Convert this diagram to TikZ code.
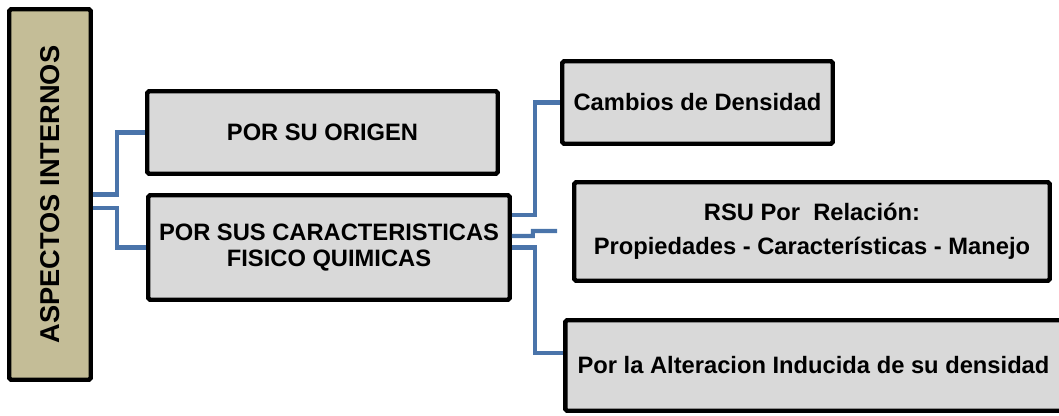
\documentclass[tikz,border=0pt]{standalone}
\usepackage{fontspec}
\setmainfont{Liberation Sans}
\definecolor{tancolor}{HTML}{C4BD97}
\definecolor{boxgray}{HTML}{D9D9D9}
\definecolor{linkblue}{HTML}{4A74AA}

\begin{document}
\begin{tikzpicture}[x=0.02cm, y=-0.02cm,
		caja/.style={draw=black, line width=2.5pt, rounded corners=1pt, fill=boxgray, align=center, inner sep=0pt,
			font=\fontsize{13.5}{14.5}\selectfont\bfseries},
		link/.style={draw=linkblue, line width=2.3pt}]
		\useasboundingbox (0,0) rectangle (1059,416);
		\clip (0,0) rectangle (1059,416);
		% tema principal
		\node[caja, fill=tancolor, minimum width=1.63cm, minimum height=7.41cm,
			font=\fontsize{15.5}{17}\selectfont\bfseries] (aspectos) at (50,194.5) {\rotatebox{90}{ASPECTOS INTERNOS}};
		% clasificacion
		\node[caja, minimum width=7.01cm, minimum height=1.65cm] (origen) at (322.5,132.5) {POR SU ORIGEN};
		\node[caja, minimum width=7.23cm, minimum height=2.09cm] (caract) at (329,247.5) {POR SUS CARACTERISTICAS\\FISICO QUIMICAS};
		% subdivisiones
		\node[caja, minimum width=5.41cm, minimum height=1.65cm] (cambios) at (697.5,102.5) {Cambios de Densidad};
		\node[caja, minimum width=9.51cm, minimum height=1.97cm, font=\fontsize{13.5}{19.3}\selectfont\bfseries] (rsu) at (812,231.5) {RSU Por\ \ Relación:\\ Propiedades - Características - Manejo};
		\node[caja, minimum width=9.93cm, minimum height=1.81cm] (alteracion) at (813.5,365.5) {Por la Alteracion Inducida de su densidad};
		\coordinate (stub) at (557,231);

		\draw[link] (aspectos.east) -- ++(24,0) |- (origen.west);
		\draw[link] ([yshift=-0.27cm]aspectos.east) -- ++(24,0) |- (caract.west);
		\draw[link] ([yshift=0.65cm]caract.east) -- ++(23,0) |- (cambios.west);
		\draw[link] ([yshift=0.23cm]caract.east) -- ++(21,0) -- ++(0,-5) -- (stub);
		\draw[link] (caract.east) -- ++(23,0) |- ([yshift=0.25cm]alteracion.west);
	\end{tikzpicture}
\end{document}
